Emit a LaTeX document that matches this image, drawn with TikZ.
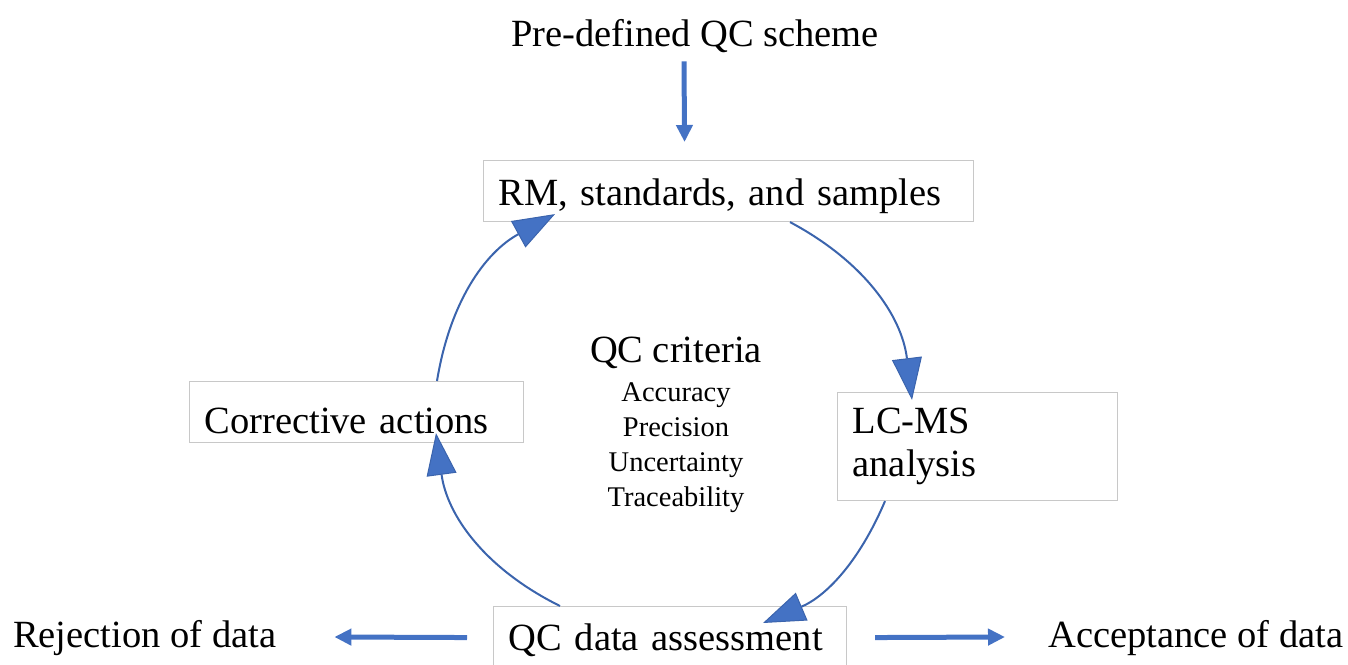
\documentclass[tikz,border=0pt]{standalone}
\usepackage{fontspec}
\setmainfont{Liberation Serif}
\usetikzlibrary{arrows.meta}
\definecolor{flowblue}{HTML}{4472C4}
\definecolor{arcblue}{HTML}{3B64AD}
\definecolor{boxgray}{HTML}{C8C8C8}
\begin{document}
\begin{tikzpicture}[x=1pt,y=1pt,
  bigfont/.style={font=\fontsize{38.5}{43}\selectfont},
  box/.style={bigfont, draw=boxgray, line width=1.1pt, fill=white, anchor=north west,
    inner xsep=15pt, inner ysep=0pt, align=left},
  lbl/.style={bigfont, inner sep=0pt},
  flow/.style={draw=flowblue, line width=5pt, -{Triangle[length=17pt,width=16pt]}},
  cyc/.style={draw=arcblue, line width=2pt,
    -{Triangle[length=42pt,width=30pt,line width=1pt,fill=flowblue]}}]
\useasboundingbox (0,0) rectangle (1348,664);
\clip (0,0) rectangle (1348,664);

% texts
\node[lbl, anchor=base] (title) at (695,617) {Pre-defined QC scheme};
\node[lbl, anchor=base west] (rej) at (13,17) {Rejection of data};
\node[lbl, anchor=base west] (acc) at (1048,17) {Acceptance of data};
\node[inner sep=0pt, anchor=north, align=center, text width=220pt,
      font=\fontsize{28.5}{35}\selectfont] (crit) at (676,327)
  {{\fontsize{38.5}{43}\selectfont QC criteria}\\[4pt]Accuracy\\Precision\\Uncertainty\\Traceability};

% boxes
\node[box, text width=460pt, minimum height=61pt, text height=45pt, text depth=16pt]
  (rm) at (483,504) {RM, standards, and samples};
\node[box, text width=250pt, minimum height=108pt] (lcms) at (837,272) {LC-MS\\analysis};
\node[box, text width=304pt, minimum height=61pt, text height=52pt, text depth=9pt]
  (corr) at (189,283) {Corrective actions};
\node[box, text width=323pt, text height=44pt, text depth=60pt]
  (qc) at (493,58) {QC data assessment};

% cycle arcs
\draw[cyc] ([xshift=248pt]corr.north west) to[bend left=26]
  ([shift={(72pt,8pt)}]rm.south west);
\draw[cyc] ([xshift=307pt]rm.south west) to[bend left=27.5]
  ([shift={(75pt,-8pt)}]lcms.north west);
\draw[cyc] ([xshift=48pt]lcms.south west) to[bend left=22]
  ([shift={(270pt,-17pt)}]qc.north west);
\draw[cyc] ([xshift=67pt]qc.north west) to[bend left=28]
  ([shift={(247pt,10pt)}]corr.south west);

% straight arrows
\draw[flow] ([shift={(-11pt,-8pt)}]title.south) -- ([shift={(-44pt,18pt)}]rm.north);
\draw[flow] ([shift={(-26pt,13pt)}]qc.base west) -- ([shift={(58pt,10pt)}]rej.base east);
\draw[flow] ([shift={(28pt,13pt)}]qc.base east) -- ([shift={(-43pt,10pt)}]acc.base west);
\end{tikzpicture}
\end{document}
